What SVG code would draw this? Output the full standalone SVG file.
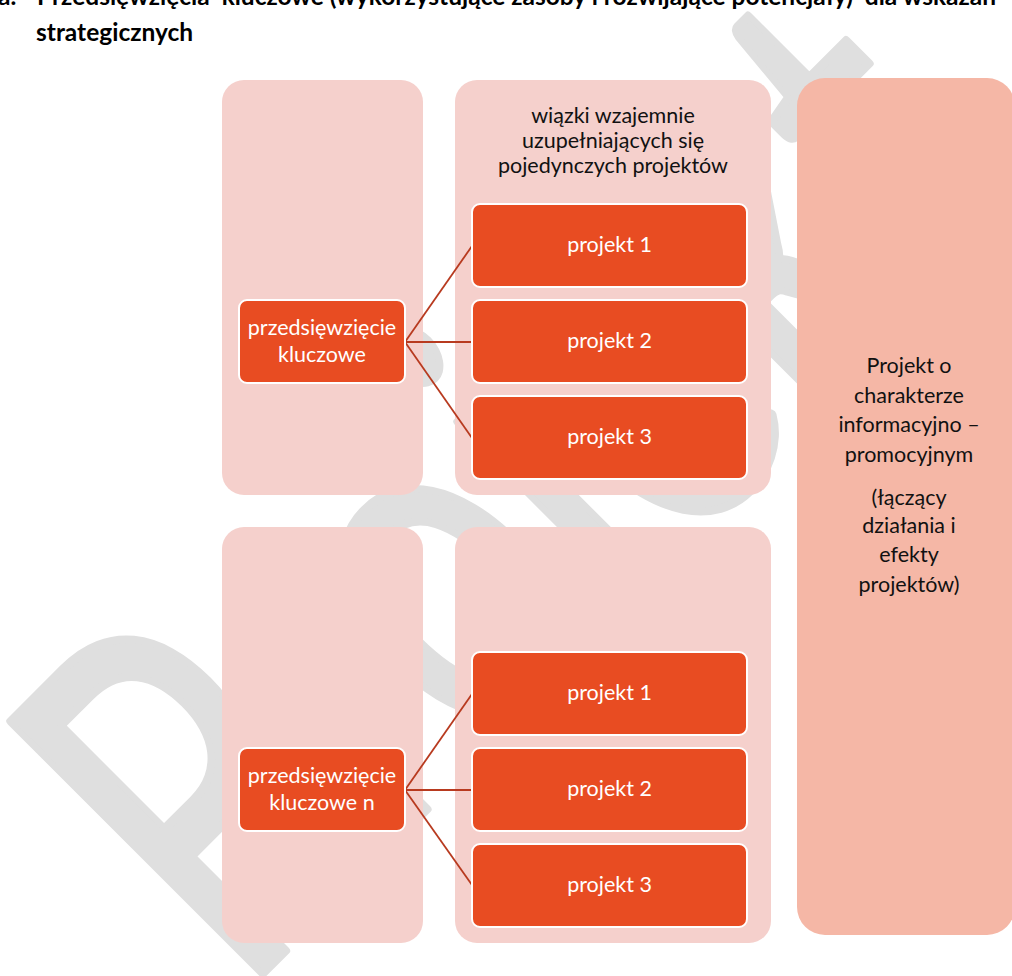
<svg xmlns="http://www.w3.org/2000/svg" width="1012" height="976" viewBox="0 0 1012 976">
<defs>
<style>
.bg{fill:#ffffff}
.wm{fill:#dfdfdf;stroke:#dfdfdf;stroke-width:9;stroke-linejoin:round;font-family:Lato,"Liberation Sans",sans-serif;font-size:497px}
.head{fill:#000000;font-family:Lato,"Liberation Sans",sans-serif;font-weight:bold;font-size:24.5px}
.cont{fill:#f5d0cc}
.side{fill:#f5b7a6}
.node{fill:#e84c22;stroke:#ffffff;stroke-width:2}
.t{font-family:Lato,"Liberation Sans",sans-serif;font-size:21.5px;text-anchor:middle}
.w{fill:#ffffff}
.d{fill:#111111}
.conn line{stroke:#b83a1f;stroke-width:1.8}
</style>
</defs>
<rect class="bg" x="0" y="0" width="1012" height="976"/>
<g id="watermark">
<text class="wm" transform="translate(239 997) rotate(-45) scale(0.715 1)">Projekt</text>
</g>
<g id="heading">
<text class="head" x="-2" y="5">a.</text>
<text class="head" x="37" y="5" xml:space="preserve">Przedsięwzięcia  kluczowe (wykorzystujące zasoby i rozwijające potencjały)  dla wskazań</text>
<text class="head" x="36" y="41">strategicznych</text>
</g>
<g id="container-top-left"><rect class="cont" x="222" y="80" width="201" height="415" rx="22"/></g>
<g id="container-top-mid">
<rect class="cont" x="455" y="80" width="316" height="415" rx="22"/>
<text class="t d" x="613" y="123">wiązki wzajemnie</text>
<text class="t d" x="613" y="148">uzupełniających się</text>
<text class="t d" x="613" y="173">pojedynczych projektów</text>
</g>
<g id="container-bottom-left"><rect class="cont" x="222" y="527" width="201" height="416" rx="22"/></g>
<g id="container-bottom-mid"><rect class="cont" x="455" y="527" width="316" height="416" rx="22"/></g>
<g id="side-project">
<rect class="side" x="797" y="78" width="218" height="857" rx="28"/>
<text class="t d" x="909" y="373">Projekt o</text>
<text class="t d" x="909" y="403">charakterze</text>
<text class="t d" x="909" y="432">informacyjno –</text>
<text class="t d" x="909" y="462">promocyjnym</text>
<text class="t d" x="909" y="505">(łączący</text>
<text class="t d" x="909" y="533">działania i</text>
<text class="t d" x="909" y="562">efekty</text>
<text class="t d" x="909" y="592">projektów)</text>
</g>
<g id="connectors" class="conn">
<line x1="405" y1="342" x2="472" y2="246"/>
<line x1="405" y1="342" x2="472" y2="342"/>
<line x1="405" y1="342" x2="472" y2="438"/>
<line x1="405" y1="790" x2="472" y2="694"/>
<line x1="405" y1="790" x2="472" y2="790"/>
<line x1="405" y1="790" x2="472" y2="885"/>
</g>
<g id="key-1">
<rect class="node" x="239" y="300" width="166" height="83" rx="8"/>
<text class="t w" x="322" y="335">przedsięwzięcie</text>
<text class="t w" x="322" y="362">kluczowe</text>
</g>
<g id="p1-1"><rect class="node" x="472" y="204" width="275" height="83" rx="8"/><text class="t w" x="609.5" y="252">projekt 1</text></g>
<g id="p1-2"><rect class="node" x="472" y="300" width="275" height="83" rx="8"/><text class="t w" x="609.5" y="348">projekt 2</text></g>
<g id="p1-3"><rect class="node" x="472" y="396" width="275" height="83" rx="8"/><text class="t w" x="609.5" y="444">projekt 3</text></g>
<g id="key-n">
<rect class="node" x="239" y="748" width="166" height="83" rx="8"/>
<text class="t w" x="322" y="783">przedsięwzięcie</text>
<text class="t w" x="322" y="810">kluczowe n</text>
</g>
<g id="pn-1"><rect class="node" x="472" y="652" width="275" height="83" rx="8"/><text class="t w" x="609.5" y="700">projekt 1</text></g>
<g id="pn-2"><rect class="node" x="472" y="748" width="275" height="83" rx="8"/><text class="t w" x="609.5" y="796">projekt 2</text></g>
<g id="pn-3"><rect class="node" x="472" y="844" width="275" height="83" rx="8"/><text class="t w" x="609.5" y="892">projekt 3</text></g>
</svg>
